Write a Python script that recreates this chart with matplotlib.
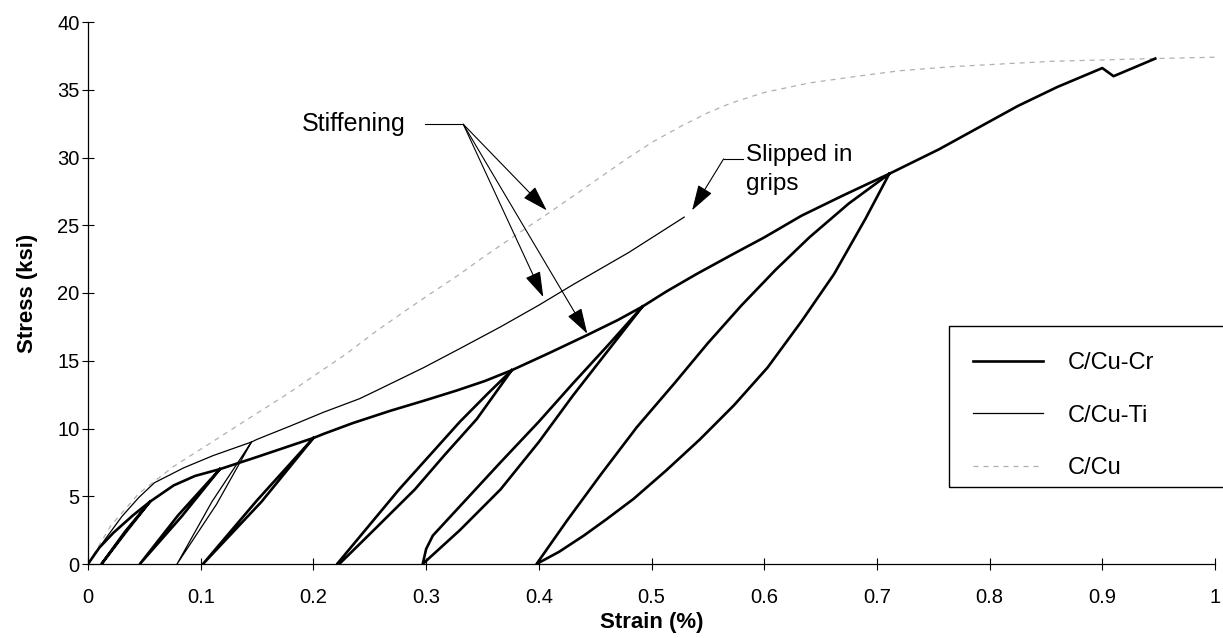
import matplotlib
matplotlib.use("Agg")
import matplotlib.pyplot as plt
from matplotlib.lines import Line2D
from matplotlib.patches import Rectangle

plt.rcParams['font.family'] = ['Liberation Sans', 'DejaVu Sans']

# ---------------- data ----------------
# C/Cu-Cr envelope (strain %, stress ksi)
cr_env_strain = [0, 0.01, 0.0225, 0.04, 0.055, 0.076, 0.095, 0.117, 0.15, 0.175, 0.2,
                 0.209, 0.235, 0.268, 0.3, 0.327, 0.352, 0.376, 0.41, 0.443, 0.47, 0.492,
                 0.513, 0.54, 0.573, 0.6, 0.633, 0.67, 0.711, 0.755, 0.79, 0.825, 0.86,
                 0.9, 0.91, 0.947]
cr_env_stress = [0, 1.2, 2.3, 3.6, 4.6, 5.8, 6.5, 7.0, 7.9, 8.6, 9.3,
                 9.6, 10.4, 11.3, 12.1, 12.8, 13.5, 14.3, 15.6, 16.9, 18.0, 19.0,
                 20.1, 21.4, 22.9, 24.1, 25.7, 27.2, 28.8, 30.6, 32.2, 33.8, 35.2,
                 36.6, 36.0, 37.3]

# C/Cu-Cr unload / reload loops (peak -> base -> peak)
cr_loop1_strain = [0.055, 0.033, 0.012, 0.035, 0.055]
cr_loop1_stress = [4.6, 2.4, 0.0, 2.5, 4.6]
cr_loop2_strain = [0.117, 0.083, 0.046, 0.080, 0.117]
cr_loop2_stress = [7.0, 3.5, 0.0, 3.6, 7.0]
cr_loop3_strain = [0.2, 0.154, 0.102, 0.150, 0.2]
cr_loop3_stress = [9.3, 4.6, 0.0, 4.7, 9.3]
cr_loop4_strain = [0.376, 0.345, 0.317, 0.290, 0.256, 0.223, 0.221, 0.248, 0.276, 0.303,
                   0.330, 0.355, 0.376]
cr_loop4_stress = [14.3, 10.7, 8.1, 5.5, 2.7, 0.0, 0.0, 2.7, 5.5, 8.0,
                   10.5, 12.6, 14.3]
cr_loop5_strain = [0.492, 0.460, 0.430, 0.400, 0.366, 0.330, 0.297,
                   0.300, 0.306, 0.336, 0.366, 0.400, 0.430, 0.462, 0.492]
cr_loop5_stress = [19.0, 15.6, 12.4, 9.0, 5.5, 2.5, 0.0,
                   1.1, 2.1, 4.8, 7.5, 10.5, 13.3, 16.2, 19.0]
cr_loop6_strain = [0.711, 0.690, 0.662, 0.633, 0.603, 0.573, 0.543, 0.513, 0.484, 0.460,
                   0.440, 0.418, 0.398,
                   0.425, 0.455, 0.487, 0.520, 0.550, 0.580, 0.610, 0.640, 0.675, 0.711]
cr_loop6_stress = [28.8, 25.5, 21.4, 17.9, 14.5, 11.7, 9.2, 6.9, 4.8, 3.3,
                   2.1, 0.9, 0.0,
                   3.2, 6.6, 10.1, 13.3, 16.3, 19.1, 21.7, 24.1, 26.6, 28.8]

# C/Cu-Ti
ti_env_strain = [0, 0.015, 0.03, 0.045, 0.059, 0.085, 0.111, 0.145, 0.15, 0.18, 0.209,
                 0.241, 0.256, 0.298, 0.33, 0.366, 0.40, 0.43, 0.48, 0.529]
ti_env_stress = [0, 1.8, 3.5, 4.9, 6.0, 7.1, 8.0, 9.0, 9.2, 10.2, 11.2,
                 12.2, 12.8, 14.5, 15.9, 17.5, 19.1, 20.6, 23.0, 25.6]
ti_loop_strain = [0.145, 0.114, 0.079, 0.110, 0.145]
ti_loop_stress = [9.0, 4.4, 0.0, 4.6, 9.0]

# C/Cu
cu_strain = [0, 0.02, 0.045, 0.076, 0.11, 0.14, 0.176, 0.229, 0.256, 0.28, 0.303, 0.33,
             0.35, 0.38, 0.407, 0.44, 0.478, 0.50, 0.526, 0.55, 0.57, 0.60, 0.64, 0.683,
             0.72, 0.766, 0.81, 0.855, 0.90, 0.944, 1.0]
cu_stress = [0, 2.8, 5.2, 7.2, 9.0, 10.6, 12.5, 15.5, 17.2, 18.6, 19.9, 21.4,
             22.6, 24.3, 25.8, 27.7, 29.9, 31.1, 32.3, 33.3, 34.0, 34.8, 35.5, 36.0,
             36.4, 36.7, 36.9, 37.1, 37.2, 37.3, 37.4]

series_labels = ['C/Cu-Cr', 'C/Cu-Ti', 'C/Cu']
x_ticks = [0, 0.1, 0.2, 0.3, 0.4, 0.5, 0.6, 0.7, 0.8, 0.9, 1.0]
x_tick_labels = ['0', '0.1', '0.2', '0.3', '0.4', '0.5', '0.6', '0.7', '0.8', '0.9', '1']
y_ticks = [0, 5, 10, 15, 20, 25, 30, 35, 40]

# ---------------- figure ----------------
W, H = 1223, 638
fig = plt.figure(figsize=(W / 100, H / 100), dpi=100)
ax = fig.add_axes([88 / W, 1 - 564 / H, (1215 - 88) / W, (564 - 22) / H])

cr_kw = dict(color='black', lw=1.9, solid_joinstyle='round')
ti_kw = dict(color='black', lw=0.9)
cu_kw = dict(color='#b0b0b0', lw=0.9, linestyle=(0, (4, 4)))

ax.plot(cu_strain, cu_stress, **cu_kw)
ax.plot(ti_env_strain, ti_env_stress, **ti_kw)
ax.plot(ti_loop_strain, ti_loop_stress, **ti_kw)
ax.plot(cr_env_strain, cr_env_stress, **cr_kw)
for xs, ys in [(cr_loop1_strain, cr_loop1_stress), (cr_loop2_strain, cr_loop2_stress),
               (cr_loop3_strain, cr_loop3_stress), (cr_loop4_strain, cr_loop4_stress),
               (cr_loop5_strain, cr_loop5_stress), (cr_loop6_strain, cr_loop6_stress)]:
    ax.plot(xs, ys, **cr_kw)

ax.set_xlim(0, 1)
ax.set_ylim(0, 40)
ax.set_xticks(x_ticks)
ax.set_xticklabels(x_tick_labels)
ax.set_yticks(y_ticks)
ax.tick_params(axis='both', direction='inout', length=8, width=0.8, labelsize=14.5)
ax.tick_params(axis='x', pad=13)
ax.tick_params(axis='y', pad=2)
for s in ['top', 'right']:
    ax.spines[s].set_visible(False)
for s in ['left', 'bottom']:
    ax.spines[s].set_linewidth(0.9)

ax.set_xlabel('Strain (%)', fontsize=16, fontweight='bold', labelpad=4)
ax.set_ylabel('Stress (ksi)', fontsize=16, fontweight='bold', labelpad=14)

# ---------------- annotations ----------------
arrow_style = dict(arrowstyle='-|>,head_length=0.8,head_width=0.25', mutation_scale=20,
                   lw=0.8, color='black', shrinkA=0, shrinkB=0)
stiff_junction = (0.333, 32.45)
ax.text(0.19, 32.45, 'Stiffening', fontsize=18, va='center', ha='left')
ax.plot([0.299, 0.333], [32.45, 32.45], color='black', lw=0.8)
for tip in [(0.407, 26.1), (0.404, 19.7), (0.443, 17.0)]:
    ax.annotate('', xy=tip, xytext=stiff_junction, arrowprops=arrow_style)

ax.text(0.584, 29.1, 'Slipped in\ngrips', fontsize=17.5, va='center', ha='left',
        linespacing=1.4)
ax.plot([0.564, 0.581], [29.9, 29.9], color='black', lw=0.8)
ax.annotate('', xy=(0.536, 26.1), xytext=(0.564, 29.9), arrowprops=arrow_style)

# ---------------- legend ----------------
handles = [Line2D([], [], **cr_kw), Line2D([], [], **ti_kw), Line2D([], [], **cu_kw)]
ax.legend(handles, series_labels, loc='upper left',
          bbox_to_anchor=(973 / W, 1 - 352 / H), bbox_transform=fig.transFigure,
          frameon=False, fontsize=17, handlelength=2.95, handletextpad=1.05,
          labelspacing=1.3, borderpad=0, borderaxespad=0)
fig.add_artist(Rectangle((949 / W, 1 - 487 / H), (1240 - 949) / W, (487 - 326) / H,
                         transform=fig.transFigure, fill=False, lw=1.0,
                         ec='black', clip_on=False))

fig.savefig('out.png', dpi=100)
